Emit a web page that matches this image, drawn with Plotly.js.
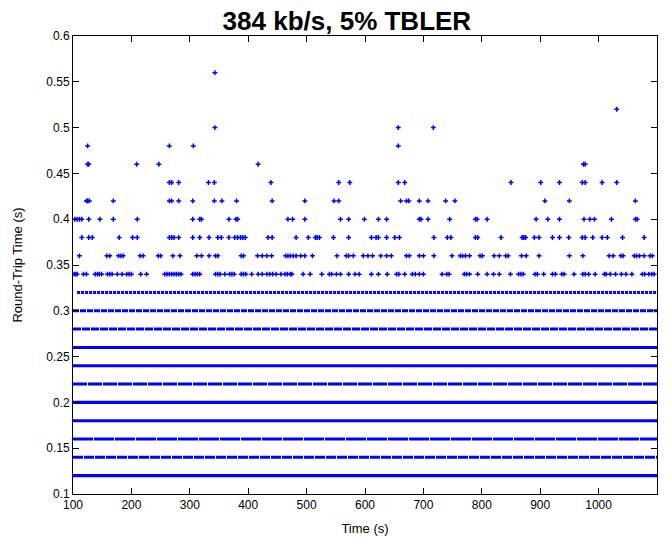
<!DOCTYPE html>
<html><head><meta charset="utf-8">
<script src="https://cdn.plot.ly/plotly-3.0.1.min.js"></script>
<style>html,body{margin:0;padding:0;background:#fff}</style>
</head><body><div id="chart" style="width:669px;height:542px"></div>
<script>
// ---- data: round-trip time samples (s) vs time (s) ----
const rtt056 = [343];
const rtt052 = [1031];
const rtt050 = [343, 657, 717];
const rtt048 = [125, 265, 306, 657];
const rtt046 = [125, 127, 209, 247, 417, 974, 977];
const rtt044 = [265, 269, 281, 332, 342, 439, 555, 574, 657, 668, 850, 901, 933, 972, 977, 1006, 1031];
const rtt042 = [123, 125, 128, 169, 265, 269, 281, 305, 342, 355, 380, 441, 497, 547, 555, 661, 671, 675, 693, 708, 738, 754, 908, 950, 1063];
const rtt040 = [103, 107, 111, 115, 127, 146, 169, 210, 305, 317, 320, 367, 379, 382, 468, 476, 497, 558, 572, 599, 623, 637, 693, 696, 708, 745, 789, 792, 809, 893, 913, 933, 975, 985, 993, 1022, 1063, 1066];
const rtt038 = [115, 127, 133, 179, 202, 210, 265, 269, 273, 281, 305, 317, 333, 348, 354, 367, 377, 382, 387, 391, 395, 434, 441, 482, 503, 515, 518, 522, 546, 572, 611, 619, 623, 637, 651, 659, 718, 741, 747, 789, 793, 833, 869, 872, 875, 890, 898, 921, 933, 949, 972, 977, 990, 1006, 1015, 1041, 1078];
const rtt036 = [111, 158, 163, 178, 182, 186, 215, 220, 246, 250, 271, 283, 312, 320, 333, 344, 348, 388, 392, 416, 424, 432, 440, 464, 468, 472, 477, 482, 490, 497, 510, 552, 568, 572, 580, 597, 605, 613, 627, 637, 645, 671, 676, 693, 700, 718, 749, 763, 767, 772, 779, 797, 801, 821, 830, 841, 845, 868, 876, 898, 950, 973, 1018, 1025, 1038, 1042, 1061, 1065, 1070, 1078, 1088, 1092];
const rtt034 = [102, 105, 107, 118, 123, 138, 142, 145, 149, 159, 163, 167, 176, 184, 192, 196, 200, 216, 226, 257, 261, 265, 269, 273, 277, 281, 285, 305, 309, 313, 317, 344, 348, 352, 360, 368, 372, 376, 388, 392, 396, 406, 417, 424, 432, 437, 442, 448, 456, 463, 467, 472, 475, 494, 506, 526, 539, 543, 551, 558, 572, 583, 590, 611, 623, 638, 654, 658, 668, 681, 686, 693, 700, 732, 740, 744, 770, 774, 779, 793, 809, 820, 830, 849, 863, 867, 871, 891, 895, 906, 921, 926, 937, 941, 958, 973, 977, 983, 994, 1010, 1013, 1020, 1029, 1039, 1047, 1057, 1075, 1079, 1086, 1091, 1095];

const sparseLevels = [0.56, 0.52, 0.50, 0.48, 0.46, 0.44, 0.42, 0.40, 0.38, 0.36, 0.34];
const sparseTimes  = [rtt056, rtt052, rtt050, rtt048, rtt046, rtt044, rtt042, rtt040, rtt038, rtt036, rtt034];

// densely populated RTT levels: samples cover the whole run
const denseLevels = [0.32, 0.30, 0.28, 0.26, 0.24, 0.22, 0.20, 0.18, 0.16, 0.14, 0.12];
const denseStart  = [107, 100, 100, 100, 100, 100, 100, 100, 100, 100, 100];
const denseEnd    = [1100, 1100, 1100, 1100, 1100, 1100, 1100, 1100, 1100, 1100, 1100];

const xTicks = [100, 200, 300, 400, 500, 600, 700, 800, 900, 1000, 1100];
const yTicks = [0.1, 0.15, 0.2, 0.25, 0.3, 0.35, 0.4, 0.45, 0.5, 0.55, 0.6];

// ---- styles ----
const BLUE = 'rgb(0,0,255)';
const denseDash  = ['3px,1px', '6px,1px', '8px,1px', 'solid', 'solid', '14px,1px', 'solid', 'solid', '20px,1px', '10px,1px', 'solid'];
const denseWidth = [3.2, 3, 3, 3, 3, 3, 3.2, 3, 3, 3, 3.2];

const traces = [];
const sx = [], sy = [];
sparseLevels.forEach((lvl, i) => {
  sparseTimes[i].forEach(t => { sx.push(t); sy.push(lvl); });
});
traces.push({
  type: 'scatter', mode: 'markers', x: sx, y: sy, hoverinfo: 'skip',
  marker: {symbol: 'cross-thin', size: 3.5, color: BLUE, line: {width: 1.5, color: BLUE}}
});
denseLevels.forEach((lvl, i) => {
  traces.push({
    type: 'scatter', mode: 'lines', x: [denseStart[i], denseEnd[i]], y: [lvl, lvl], hoverinfo: 'skip',
    line: {color: BLUE, width: denseWidth[i], dash: denseDash[i]}
  });
});

const FONT = 'Liberation Sans, Arial, Helvetica, sans-serif';
const layout = {
  width: 669, height: 542,
  margin: {l: 73, r: 12, t: 36, b: 48, pad: 0},
  paper_bgcolor: '#fff', plot_bgcolor: '#fff',
  showlegend: false,
  font: {family: FONT, size: 12, color: '#000'},
  title: {
    text: '<b>384 kb/s, 5% TBLER</b>',
    font: {family: FONT, size: 26, color: '#000'},
    x: 0.469, xref: 'paper', xanchor: 'center',
    y: 1 - 21/542, yref: 'container', yanchor: 'middle'
  },
  xaxis: {
    range: [100, 1100], tickmode: 'array', tickvals: xTicks, ticktext: xTicks.map(String),
    ticks: 'inside', ticklen: 6, tickwidth: 1, tickcolor: '#000',
    showline: true, linecolor: '#000', linewidth: 1, mirror: 'ticks',
    showgrid: false, zeroline: false,
    tickfont: {family: FONT, size: 12, color: '#000'},
    title: {text: 'Time (s)', font: {family: FONT, size: 13, color: '#000'}, standoff: 12}
  },
  yaxis: {
    range: [0.1, 0.6], tickmode: 'array', tickvals: yTicks, ticktext: yTicks.map(v => String(v)),
    ticks: 'inside', ticklen: 6, tickwidth: 1, tickcolor: '#000',
    showline: true, linecolor: '#000', linewidth: 1, mirror: 'ticks',
    showgrid: false, zeroline: false,
    tickfont: {family: FONT, size: 12, color: '#000'},
    title: {text: 'Round-Trip Time (s)', font: {family: FONT, size: 13, color: '#000'}, standoff: 20}
  }
};
Plotly.newPlot('chart', traces, layout, {staticPlot: true, displayModeBar: false});
</script>
</body></html>
